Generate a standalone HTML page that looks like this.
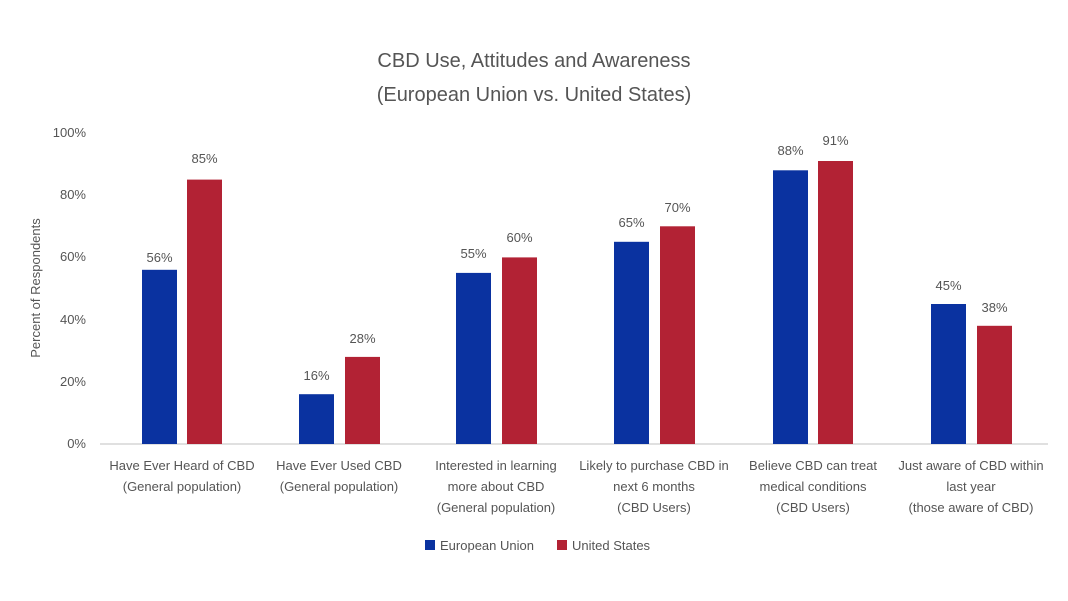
<!DOCTYPE html>
<html><head><meta charset="utf-8"><style>
body{margin:0;background:#fff;}
svg{display:block;font-family:"Liberation Sans",sans-serif;}
</style></head><body>
<svg width="1068" height="601" viewBox="0 0 1068 601">
<rect width="1068" height="601" fill="#fff"/>
<g fill="#555" text-anchor="middle">
<text x="534" y="67" font-size="20">CBD Use, Attitudes and Awareness</text>
<text x="534" y="101" font-size="20">(European Union vs. United States)</text>
</g>
<g fill="#555" font-size="13" text-anchor="end">
<text x="86" y="448">0%</text>
<text x="86" y="386">20%</text>
<text x="86" y="324">40%</text>
<text x="86" y="261">60%</text>
<text x="86" y="199">80%</text>
<text x="86" y="137">100%</text>
</g>
<text transform="translate(40,288) rotate(-90)" fill="#555" font-size="13" text-anchor="middle">Percent of Respondents</text>
<line x1="100" y1="444" x2="1048" y2="444" stroke="#d5d5d5" stroke-width="1.5"/>
<g id="bars"></g>
<g fill="#555" font-size="13" text-anchor="middle">
<text x="182" y="470">Have Ever Heard of CBD</text><text x="182" y="491">(General population)</text>
<text x="339" y="470">Have Ever Used CBD</text><text x="339" y="491">(General population)</text>
<text x="496" y="470">Interested in learning</text><text x="496" y="491">more about CBD</text><text x="496" y="512">(General population)</text>
<text x="654" y="470">Likely to purchase CBD in</text><text x="654" y="491">next 6 months</text><text x="654" y="512">(CBD Users)</text>
<text x="813" y="470">Believe CBD can treat</text><text x="813" y="491">medical conditions</text><text x="813" y="512">(CBD Users)</text>
<text x="971" y="470">Just aware of CBD within</text><text x="971" y="491">last year</text><text x="971" y="512">(those aware of CBD)</text>
</g>
<rect x="425" y="540" width="10" height="10" fill="#0a32a0"/>
<text x="440" y="550" fill="#555" font-size="13">European Union</text>
<rect x="557" y="540" width="10" height="10" fill="#b22234"/>
<text x="572" y="550" fill="#555" font-size="13">United States</text>
<g font-size="13" fill="#555" text-anchor="middle">
<rect x="142" y="269.8" width="35" height="174.2" fill="#0a32a0"/><text x="159.5" y="262">56%</text>
<rect x="187" y="179.6" width="35" height="264.4" fill="#b22234"/><text x="204.5" y="163">85%</text>
<rect x="299" y="394.2" width="35" height="49.8" fill="#0a32a0"/><text x="316.5" y="380">16%</text>
<rect x="345" y="356.9" width="35" height="87.1" fill="#b22234"/><text x="362.5" y="343">28%</text>
<rect x="456" y="272.9" width="35" height="171.1" fill="#0a32a0"/><text x="473.5" y="258">55%</text>
<rect x="502" y="257.4" width="35" height="186.6" fill="#b22234"/><text x="519.5" y="242">60%</text>
<rect x="614" y="241.8" width="35" height="202.2" fill="#0a32a0"/><text x="631.5" y="227">65%</text>
<rect x="660" y="226.3" width="35" height="217.7" fill="#b22234"/><text x="677.5" y="212">70%</text>
<rect x="773" y="170.3" width="35" height="273.7" fill="#0a32a0"/><text x="790.5" y="155">88%</text>
<rect x="818" y="161" width="35" height="283" fill="#b22234"/><text x="835.5" y="145">91%</text>
<rect x="931" y="304" width="35" height="140" fill="#0a32a0"/><text x="948.5" y="290">45%</text>
<rect x="977" y="325.8" width="35" height="118.2" fill="#b22234"/><text x="994.5" y="312">38%</text>
</g>
</svg>
</body></html>
